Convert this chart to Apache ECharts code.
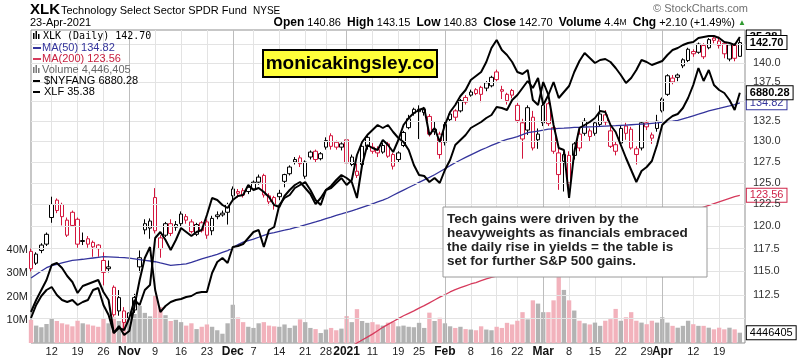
<!DOCTYPE html>
<html><head><meta charset="utf-8">
<script src="https://cdn.jsdelivr.net/npm/echarts@6/dist/echarts.min.js"></script>
<style>html,body{margin:0;padding:0;background:#fff}#c{width:803px;height:359px}</style>
</head><body><div id="c"></div>
<script>
// ---------- DATA ----------
const dates = ["Oct 6","Oct 7","Oct 8","Oct 9","Oct 12","Oct 13","Oct 14","Oct 15","Oct 16","Oct 19","Oct 20","Oct 21","Oct 22","Oct 23","Oct 26","Oct 27","Oct 28","Oct 29","Oct 30",
"Nov 2","Nov 3","Nov 4","Nov 5","Nov 6","Nov 9","Nov 10","Nov 11","Nov 12","Nov 13","Nov 16","Nov 17","Nov 18","Nov 19","Nov 20","Nov 23","Nov 24","Nov 25","Nov 27","Nov 30",
"Dec 1","Dec 2","Dec 3","Dec 4","Dec 7","Dec 8","Dec 9","Dec 10","Dec 11","Dec 14","Dec 15","Dec 16","Dec 17","Dec 18","Dec 21","Dec 22","Dec 23","Dec 24","Dec 28","Dec 29","Dec 30","Dec 31",
"Jan 4","Jan 5","Jan 6","Jan 7","Jan 8","Jan 11","Jan 12","Jan 13","Jan 14","Jan 15","Jan 19","Jan 20","Jan 21","Jan 22","Jan 25","Jan 26","Jan 27","Jan 28","Jan 29",
"Feb 1","Feb 2","Feb 3","Feb 4","Feb 5","Feb 8","Feb 9","Feb 10","Feb 11","Feb 12","Feb 16","Feb 17","Feb 18","Feb 19","Feb 22","Feb 23","Feb 24","Feb 25","Feb 26",
"Mar 1","Mar 2","Mar 3","Mar 4","Mar 5","Mar 8","Mar 9","Mar 10","Mar 11","Mar 12","Mar 15","Mar 16","Mar 17","Mar 18","Mar 19","Mar 22","Mar 23","Mar 24","Mar 25","Mar 26","Mar 29","Mar 30","Mar 31",
"Apr 1","Apr 5","Apr 6","Apr 7","Apr 8","Apr 9","Apr 12","Apr 13","Apr 14","Apr 15","Apr 16","Apr 19","Apr 20","Apr 21","Apr 22","Apr 23"];

const open = [117.2,115.9,117.9,118.0,121.0,123.0,122.5,119.0,121.6,120.8,
118.3,118.6,118.2,117.9,116.2,115.3,113.3,110.8,110.8,110.6,
110.9,115.5,119.6,119.8,123.3,118.7,119.0,120.3,119.9,120.3,
121.1,120.5,119.1,120.4,120.5,119.5,121.1,121.3,121.6,123.5,
124.0,124.1,124.0,124.3,125.1,125.9,122.8,123.3,123.4,125.2,
126.1,127.5,128.0,125.8,128.1,128.8,127.9,129.3,130.7,129.9,
129.3,130.2,127.2,126.4,127.2,129.4,129.3,129.0,128.7,129.7,
128.4,127.8,129.5,131.7,134.0,134.0,133.6,133.1,131.2,130.9,
129.9,132.7,133.8,133.8,135.5,135.8,136.5,136.8,136.7,137.0,
138.8,136.5,135.1,136.4,134.5,130.3,131.4,133.0,130.9,132.3,
134.7,131.7,128.6,127.6,128.3,128.3,130.9,131.0,130.6,131.0,
132.1,132.4,131.3,129.6,129.8,131.9,131.5,128.4,129.2,132.3,
130.8,131.6,133.8,135.9,137.5,138.4,139.6,140.3,141.5,141.4,
142.3,142.0,143.3,142.3,142.6,140.5,142.3,140.86];
const high = [117.5,117.1,118.1,119.3,123.4,123.2,122.7,121.0,121.8,121.0,
119.3,118.9,118.4,118.0,117.1,116.2,113.5,113.0,111.2,111.0,
112.6,117.3,120.8,120.9,124.4,119.0,120.5,120.8,120.6,121.7,
121.4,120.8,120.4,120.6,120.8,121.2,121.7,121.8,122.7,124.6,
124.3,124.4,124.7,125.3,126.0,126.1,123.8,123.5,124.2,126.1,
127.1,128.1,128.3,127.7,128.9,129.0,128.7,130.5,131.0,130.1,
129.9,130.5,128.4,127.3,129.6,130.8,129.8,129.4,129.8,130.0,
128.6,128.8,131.3,133.3,134.2,134.5,134.3,133.4,132.5,131.2,
132.4,133.6,134.0,135.3,135.8,136.5,136.7,137.0,137.6,138.3,
139.1,137.0,136.1,136.6,134.8,132.8,134.5,133.8,131.6,134.7,
135.0,132.0,129.2,128.7,128.8,130.0,131.5,132.9,131.6,132.5,
134.5,133.9,131.8,130.0,131.9,132.3,131.8,129.4,132.5,132.6,
131.1,133.3,135.5,138.5,138.4,138.6,140.6,142.0,141.8,142.7,
142.6,143.3,143.7,143.5,142.9,142.6,142.6,143.15];
const low = [115.0,115.7,117.0,117.8,120.4,121.5,120.1,118.8,120.0,117.6,
117.9,117.6,116.6,116.6,113.5,114.9,110.2,110.3,108.9,109.2,
110.6,114.9,119.1,118.6,119.2,116.5,118.8,118.9,119.5,120.0,
120.3,119.2,118.9,119.3,118.6,119.0,120.8,121.1,120.2,123.0,
123.3,123.3,123.7,124.1,124.8,123.3,122.4,121.9,123.0,124.5,
125.9,127.2,126.9,125.5,127.8,127.5,127.7,129.0,129.0,129.0,
128.9,126.8,127.0,125.6,127.0,129.0,128.5,128.1,128.5,128.0,
126.6,127.5,129.3,131.5,133.2,130.3,133.2,130.6,130.8,127.9,
129.5,132.4,132.5,133.6,134.6,135.6,135.8,134.9,136.3,136.8,
137.6,135.3,134.6,135.4,132.3,127.9,130.8,128.9,129.1,131.9,
131.9,128.5,124.2,124.0,123.6,127.8,128.8,130.7,130.0,130.7,
131.9,132.0,129.2,128.3,129.6,130.2,129.0,127.2,128.9,131.4,
129.7,131.2,133.6,135.7,137.2,137.6,139.3,140.1,140.8,141.2,
140.5,141.8,142.6,141.9,140.6,140.2,140.2,140.83];
const close = [115.3,116.9,117.3,119.1,122.5,121.8,121.1,120.7,120.1,118.0,
118.4,118.0,117.7,117.5,114.9,115.5,110.4,112.2,109.6,110.0,
112.2,116.5,120.3,120.6,119.5,117.5,120.3,119.2,120.2,121.4,
120.7,119.4,120.2,119.5,119.0,120.9,121.3,121.5,122.5,124.3,
123.8,123.6,124.5,125.1,125.7,123.6,123.5,122.5,123.8,126.0,
126.9,127.8,127.3,127.5,128.7,127.8,128.5,130.1,129.4,129.3,
129.7,127.4,128.1,125.9,129.4,130.5,128.8,128.6,129.5,128.2,
127.0,128.6,131.1,132.8,133.5,133.7,134.0,130.9,131.5,128.4,
132.1,133.4,133.0,135.1,134.9,136.2,136.0,135.9,137.4,138.1,
137.8,136.3,135.9,135.8,132.6,132.3,134.2,129.2,130.2,134.5,
132.2,128.8,126.0,128.4,125.0,129.7,129.2,132.5,131.3,132.3,
133.4,133.3,129.4,128.8,131.6,131.0,129.2,129.1,132.3,131.8,
130.4,132.5,135.3,138.3,138.0,138.1,140.4,141.8,141.2,142.5,
140.8,143.1,143.0,142.9,141.2,142.4,140.6,142.70];
const prevClose0 = 117.4; // close before the first visible day

// volume, millions of shares
const volume = [10.0,7.5,6.8,8.2,10.5,9.5,8.5,8.0,7.2,9.6,
8.5,8.0,7.5,7.0,10.5,8.5,11.0,9.5,13.0,10.5,
12.5,16.0,13.0,11.5,20.5,15.5,12.0,9.5,10.0,9.0,
7.5,8.5,6.0,7.0,8.0,7.0,5.5,4.0,8.5,16.5,
11.0,9.0,7.0,6.5,8.5,9.0,7.5,7.2,7.0,8.0,
6.5,7.5,10.2,9.0,6.5,6.0,4.3,5.8,6.5,5.5,
6.2,11.6,9.0,14.6,9.5,8.7,9.0,8.0,7.5,8.8,
9.2,7.2,7.5,7.0,6.8,8.7,6.5,13.1,9.5,10.9,
8.5,7.2,6.5,7.0,6.0,5.8,5.5,7.2,5.8,5.5,
7.0,6.5,8.7,8.0,9.6,13.3,10.2,18.4,17.0,13.3,
13.3,18.4,30.2,22.9,18.4,14.0,9.6,8.5,8.0,8.8,
7.4,9.6,10.3,14.7,9.6,11.1,13.3,9.6,8.8,8.1,
9.6,8.8,11.1,8.8,7.4,6.6,7.4,9.6,8.1,7.4,
7.4,6.6,5.9,6.6,5.9,6.6,5.9,4.446405];

const ma50 = [114.3,114.67,115.05,115.41,115.63,115.77,115.93,116.07,116.2,116.27,
116.33,116.4,116.47,116.54,116.61,116.6,116.57,116.53,116.5,116.46,
116.38,116.3,116.22,116.14,116.06,115.93,115.81,115.67,115.72,115.77,
115.83,115.98,116.17,116.37,116.54,116.69,116.87,117.08,117.29,117.6,
117.95,118.23,118.4,118.57,118.77,118.99,119.17,119.3,119.44,119.56,
119.69,119.85,120.0,120.17,120.33,120.5,120.68,120.88,121.05,121.24,
121.41,121.59,121.77,121.95,122.16,122.37,122.58,122.79,123.0,123.25,
123.57,123.87,124.17,124.47,124.77,125.08,125.38,125.67,125.98,126.34,
126.7,127.06,127.41,127.74,128.06,128.37,128.67,128.96,129.23,129.51,
129.77,130.04,130.24,130.42,130.6,130.84,131.07,131.18,131.27,131.38,
131.52,131.56,131.6,131.63,131.68,131.73,131.75,131.78,131.8,131.82,
131.85,131.88,131.91,131.94,131.98,132.02,132.06,132.1,132.14,132.18,
132.24,132.3,132.38,132.44,132.5,132.61,132.8,132.98,133.18,133.38,
133.59,133.8,133.95,134.1,134.27,134.42,134.6,134.82];

const ma200Start = 56; // earlier values lie below the visible price range
const ma200 = [105.4,105.7,106.0,106.3,106.6,106.9,107.2,107.5,107.8,108.1,
108.4,108.75,109.1,109.4,109.7,110.0,110.3,110.55,110.8,111.1,
111.35,111.65,111.95,112.25,112.5,112.8,113.05,113.25,113.45,113.65,
113.8,114.0,114.2,114.35,114.5,114.7,114.9,115.1,115.3,115.5,
115.7,115.85,116.05,116.25,116.45,116.65,116.85,117.05,117.2,117.4,
117.6,117.8,118.0,118.2,118.35,118.55,118.75,118.95,119.15,119.35,
119.5,119.7,119.9,120.1,120.3,120.5,120.65,120.85,121.05,121.25,
121.45,121.65,121.8,122.0,122.2,122.4,122.6,122.8,123.0,123.2,
123.4,123.56];

const nyfang = [5126,5222,5302,5382,5502,5518,5478,5414,5366,5278,
5334,5350,5366,5382,5286,5222,4958,5014,4942,4974,
5174,5382,5558,5646,5302,5126,5174,5206,5222,5230,
5246,5254,5278,5286,5286,5438,5526,5558,5518,5646,
5654,5670,5718,5766,5782,5646,5782,5806,5982,6038,
6062,6118,6142,6166,6102,6022,5982,6102,6134,6182,
6222,6198,6166,6038,6302,6462,6438,6422,6502,6462,
6406,6502,6622,6678,6718,6742,6758,6542,6598,6486,
6622,6726,6782,6854,6902,6982,7014,7046,7126,7238,
7302,7222,7182,7126,7046,7030,7062,6822,6782,6966,
6862,6622,6438,6422,6038,6406,6598,6622,6646,6678,
6734,6726,6622,6566,6462,6358,6262,6166,6254,6286,
6334,6462,6622,6662,6694,6710,6758,6838,6942,7078,
6974,7062,6942,6902,6878,6822,6742,6880.28];

const xlf = [24.14,24.66,25.02,25.26,25.38,25.06,24.86,24.78,24.86,24.66,
24.78,24.86,25.26,25.34,24.66,24.26,23.54,23.74,23.66,24.14,
24.86,24.66,25.26,25.46,27.34,27.58,27.26,26.86,27.26,27.74,
27.58,27.42,27.58,27.66,28.26,28.94,28.86,28.66,28.54,28.86,
29.02,29.06,29.46,29.26,29.34,29.18,28.98,28.66,28.58,29.02,
29.26,29.46,29.58,29.34,29.10,28.70,28.94,29.26,29.34,29.54,
29.74,29.46,29.66,30.66,31.18,31.46,31.66,31.86,31.74,31.86,
31.58,31.34,31.18,30.86,30.26,29.86,29.82,29.58,29.74,29.54,
30.06,30.46,31.06,31.26,31.46,31.74,31.86,31.98,32.14,32.26,
32.58,32.54,32.46,32.86,33.06,33.34,33.62,33.34,33.74,32.66,
33.06,33.58,32.94,33.18,33.42,33.98,34.42,34.74,34.54,34.34,
34.46,34.50,34.38,34.14,33.86,33.54,33.74,34.06,34.46,34.38,
34.26,34.34,34.42,34.66,34.86,34.94,35.06,35.14,35.18,35.34,
35.38,35.42,35.42,35.34,35.18,35.14,35.06,35.38];

const tickDates = ["Oct 12","Oct 19","Oct 26","Nov 2","Nov 9","Nov 16","Nov 23","Dec 1","Dec 7","Dec 14","Dec 21","Dec 28","Jan 4","Jan 11","Jan 19","Jan 25","Feb 1","Feb 8","Feb 16","Feb 22","Mar 1","Mar 8","Mar 15","Mar 22","Mar 29","Apr 1","Apr 12","Apr 19"];
const tickLabels = ["12","19","26","Nov","9","16","23","Dec","7","14","21","28","2021","11","19","25","Feb","8","16","22","Mar","8","15","22","29","Apr","12","19"];
const boldTicks = ["Nov","Dec","2021","Feb","Mar","Apr"];
const priceTicks = [110,112.5,115,117.5,120,122.5,125,127.5,130,132.5,135,137.5,140,142.5];
const priceTicksHidden = [110,135,142.5];
const volumeTicks = [10,20,30,40];

// ---------- BUILD ----------
const FONT = '"Liberation Sans", Arial, Helvetica, sans-serif';
const RED = '#d3163d', BLK = '#000000', BLUE = '#34349c', MARED = '#d63a5c';
const categories = dates.concat(['']);
const tickMap = {};
tickDates.forEach((d, k) => { tickMap[dates.indexOf(d)] = tickLabels[k]; });
const isTick = (i) => tickMap[i] !== undefined;

const candleData = dates.map((d, i) => {
  const prev = i === 0 ? prevClose0 : close[i - 1];
  const col = close[i] >= prev ? BLK : RED;
  return { value: [open[i], close[i], low[i], high[i]],
    itemStyle: { color: '#ffffff', color0: col, borderColor: col, borderColor0: col, borderColorDoji: col } };
});
const volData = dates.map((d, i) => {
  const prev = i === 0 ? prevClose0 : close[i - 1];
  return { value: volume[i], itemStyle: { color: close[i] >= prev ? '#b3b3b3' : '#f2b2bc' } };
});
const ma200Data = dates.map((d, i) => i < ma200Start ? null : ma200[i - ma200Start]);

const hLines = priceTicks.map(v => ({ yAxis: v, label: { show: priceTicksHidden.indexOf(v) < 0 } }));
const vLines = tickDates.filter((d, k) => boldTicks.indexOf(tickLabels[k]) >= 0)
  .map(d => ({ xAxis: d, label: { show: false }, lineStyle: { color: '#bdbdbd', width: 1, type: 'solid' } }));

function tag(text, color, bold) {
  return { show: true, formatter: () => text, distance: 7, color: color, fontFamily: FONT,
    fontSize: 11, fontWeight: bold ? 'bold' : 'normal', backgroundColor: '#ffffff',
    borderColor: color, borderWidth: 1, padding: [1, 3, 0, 3], lineHeight: 12 };
}
function T(x, y, text, st) {
  return { type: 'text', x: x, y: y, z: 100, silent: true,
    style: Object.assign({ text: text, fontFamily: FONT, fontSize: 11, fill: '#000', align: 'left', verticalAlign: 'middle' }, st || {}) };
}
function R(x, y, w, h, fill, extra) {
  return { type: 'rect', z: 100, silent: true, shape: { x: x, y: y, width: w, height: h },
    style: Object.assign({ fill: fill }, extra || {}) };
}

const graphics = [
  T(30, 10, 'XLK', { fontSize: 15, fontWeight: 'bold' }),
  T(61, 11, 'Technology Select Sector SPDR Fund', { fontSize: 11 }),
  T(253, 11, 'NYSE', { fontSize: 10 }),
  T(30, 23, '23-Apr-2021', { fontSize: 11 }),
  T(748, 9, '\u00A9 StockCharts.com', { fontSize: 11, fill: '#6f6f6f', align: 'right' }),
  T(746, 23, '{k|Open} {v|140.86}  {k|High} {v|143.15}  {k|Low} {v|140.83}  {k|Close} {v|142.70}  {k|Volume} {v|4.4}{s|M}  {k|Chg} {v|+2.10 (+1.49%)} {g|\u25B2}',
    { align: 'right', rich: {
      k: { fontFamily: FONT, fontSize: 12, fontWeight: 'bold', fill: '#000' },
      v: { fontFamily: FONT, fontSize: 11, fill: '#000' },
      s: { fontFamily: FONT, fontSize: 8.5, fill: '#000' },
      g: { fontFamily: FONT, fontSize: 8, fill: '#2f9a2f' } } }),
  // legend
  R(33, 33, 1.5, 6, '#000'), R(35.5, 31, 1.5, 8, '#000'), R(38, 34, 1.5, 5, '#000'),
  T(43, 36, 'XLK (Daily) 142.70', { fontFamily: '"DejaVu Sans Mono", monospace', fontSize: 10 }),
  R(33, 47, 8, 2, BLUE), T(42, 48, 'MA(50) 134.82', { fill: BLUE }),
  R(33, 58, 8, 2, MARED), T(42, 59, 'MA(200) 123.56', { fill: '#c8203f' }),
  R(33, 67, 1.5, 6, '#777'), R(35.5, 65, 1.5, 8, '#777'), R(38, 68, 1.5, 5, '#777'),
  T(42, 70, 'Volume 4,446,405', { fill: '#666' }),
  R(33, 80, 7, 2, '#000'), T(44, 81, '$NYFANG 6880.28'),
  R(33, 91, 7, 2, '#000'), T(44, 92, 'XLF 35.38'),
  // watermark
  R(263, 50, 174, 27, '#ffff3a', { stroke: '#000', lineWidth: 2 }),
  T(350, 64, 'monicakingsley.co', { fontSize: 19, fontWeight: 'bold', align: 'center' }),
  // annotation
  R(443, 207, 264, 70, '#ffffff', { stroke: '#9a9a9a', lineWidth: 1 }),
  T(447, 219, 'Tech gains were driven by the', { fontSize: 13.5, fontWeight: 'bold', fill: '#222' }),
  T(447, 233, 'heavyweights as financials embraced', { fontSize: 13.5, fontWeight: 'bold', fill: '#222' }),
  T(447, 247, 'the daily rise in yields = the table is', { fontSize: 13.5, fontWeight: 'bold', fill: '#222' }),
  T(447, 261, 'set for further S&P 500 gains.', { fontSize: 13.5, fontWeight: 'bold', fill: '#222' })
];

const option = {
  animation: false,
  backgroundColor: '#ffffff',
  textStyle: { fontFamily: FONT },
  grid: { left: 31, right: 58, top: 30, bottom: 16, show: true, borderColor: '#8f8f8f', borderWidth: 1, backgroundColor: '#ffffff' },
  xAxis: [{
    type: 'category', data: categories, boundaryGap: false,
    axisLine: { show: false }, axisTick: { show: false },
    axisLabel: { interval: (i) => isTick(i), margin: 3, fontSize: 11, color: '#222', fontFamily: FONT,
      formatter: (v, i) => { const t = tickMap[i]; if (t === undefined) return ''; return boldTicks.indexOf(t) >= 0 ? '{b|' + t + '}' : t; },
      rich: { b: { fontWeight: 'bold', fontSize: 12, color: '#111', fontFamily: FONT } } },
    splitLine: { show: true, interval: (i) => isTick(i), lineStyle: { color: '#e3e3e3', width: 1 } }
  }],
  yAxis: [
    { type: 'log', logBase: 10, min: 107.5, max: 144.4, show: false },
    { type: 'value', min: 0, max: 135, interval: 10, position: 'left',
      axisLine: { show: false }, axisTick: { show: false }, splitLine: { show: false },
      axisLabel: { margin: 3, fontSize: 11, color: '#222', fontFamily: FONT,
        formatter: (v) => volumeTicks.indexOf(v) >= 0 ? v + 'M' : '' } },
    { type: 'value', min: 4878, max: 7382, show: false },
    { type: 'value', min: 23.14, max: 35.66, show: false }
  ],
  series: [
    { name: 'grid', type: 'line', data: close, yAxisIndex: 0, symbol: 'none', silent: true, z: 1,
      lineStyle: { opacity: 0 },
      markLine: { silent: true, symbol: ['none', 'none'], animation: false,
        label: { show: true, position: 'end', distance: 8, formatter: (p) => Number(p.value).toFixed(1), color: '#333', fontSize: 11, fontFamily: FONT },
        lineStyle: { color: '#e3e3e3', width: 1, type: 'solid' },
        data: hLines.concat(vLines) } },
    { name: 'Volume', type: 'bar', data: volData, yAxisIndex: 1, barWidth: '84%', z: 2, silent: true },
    { name: 'XLK', type: 'candlestick', data: candleData, yAxisIndex: 0, barWidth: 4, z: 3, itemStyle: { borderWidth: 1 } },
    { name: 'MA(200)', type: 'line', data: ma200Data, yAxisIndex: 0, symbol: 'none', z: 4,
      lineStyle: { color: MARED, width: 1.3 }, endLabel: tag('123.56', '#cf2449', false) },
    { name: 'MA(50)', type: 'line', data: ma50, yAxisIndex: 0, symbol: 'none', z: 4,
      lineStyle: { color: BLUE, width: 1.3 }, endLabel: tag('134.82', BLUE, false) },
    { name: 'XLF', type: 'line', data: xlf, yAxisIndex: 3, symbol: 'none', z: 5,
      lineStyle: { color: '#000', width: 2 }, endLabel: tag('35.38', '#000', true) },
    { name: '$NYFANG', type: 'line', data: nyfang, yAxisIndex: 2, symbol: 'none', z: 6,
      lineStyle: { color: '#000', width: 2 }, endLabel: tag('6880.28', '#000', true) },
    { name: 'close tag', type: 'line', data: close, yAxisIndex: 0, symbol: 'none', silent: true, z: 8,
      lineStyle: { opacity: 0 }, endLabel: tag('142.70', '#000', true) },
    { name: 'volume tag', type: 'line', data: volume, yAxisIndex: 1, symbol: 'none', silent: true, z: 8,
      lineStyle: { opacity: 0 }, endLabel: tag('4446405', '#000', false) }
  ],
  graphic: graphics
};
const chart = echarts.init(document.getElementById('c'));
chart.setOption(option);
</script></body></html>
